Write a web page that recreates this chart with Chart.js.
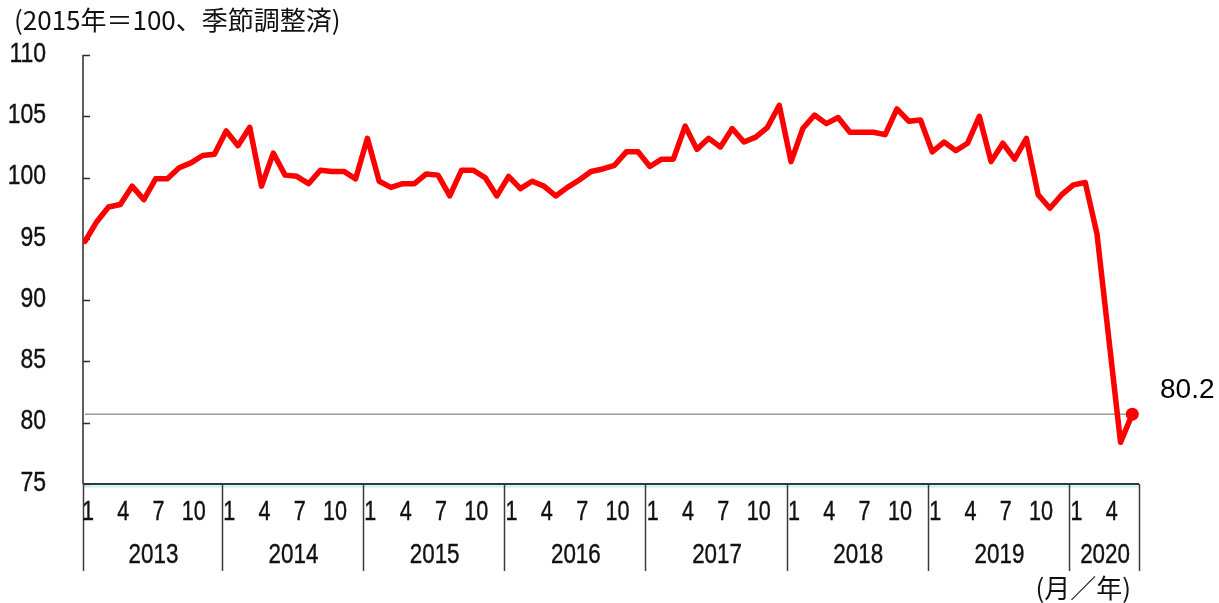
<!DOCTYPE html>
<html><head><meta charset="utf-8">
<script src="https://cdn.jsdelivr.net/npm/chart.js@4.4.1/dist/chart.umd.min.js"></script>
<style>html,body{margin:0;padding:0;background:#fff;}canvas{display:block;}</style>
</head><body>
<canvas id="c" width="1219" height="603"></canvas>
<script>
// ---- data ----
const years = [2013, 2014, 2015, 2016, 2017, 2018, 2019, 2020];
const monthTickLabels = [1, 4, 7, 10];
const yTickValues = [75, 80, 85, 90, 95, 100, 105, 110];
const indexValues = [
  94.8, 96.4, 97.6, 97.8, 99.3, 98.2, 99.9, 99.9, 100.8, 101.2, 101.8, 101.9,   // 2013
  103.8, 102.6, 104.1, 99.3, 102.0, 100.2, 100.1, 99.5, 100.6, 100.5, 100.5, 99.9, // 2014
  103.2, 99.7, 99.2, 99.5, 99.5, 100.3, 100.2, 98.5, 100.6, 100.6, 100.0, 98.5,  // 2015
  100.1, 99.1, 99.7, 99.3, 98.5, 99.2, 99.8, 100.5, 100.7, 101.0, 102.1, 102.1,  // 2016
  100.9, 101.5, 101.5, 104.2, 102.3, 103.2, 102.5, 104.0, 102.9, 103.3, 104.1, 105.9, // 2017
  101.3, 104.0, 105.1, 104.4, 104.9, 103.7, 103.7, 103.7, 103.5, 105.6, 104.6, 104.7, // 2018
  102.1, 102.9, 102.2, 102.8, 105.0, 101.3, 102.8, 101.5, 103.2, 98.6, 97.5, 98.6,   // 2019
  99.4, 99.6, 95.4, 86.9, 78.4, 80.7                                                // 2020
];
const referenceValue = 80.7;
const lastValueLabel = '80.2';
const titleText = '(2015年＝100、季節調整済)';
const unitText = '(月／年)';

// ---- build datasets ----
const linePoints = indexValues.map((v, i) => ({ x: i, y: v }));
const refPoints = [{ x: 0, y: referenceValue }, { x: indexValues.length - 1, y: referenceValue }];
const lastIdx = indexValues.length - 1;

function narrowText(ctx, text, x, y, align, sx) {
  ctx.save();
  ctx.translate(x, y);
  ctx.scale(sx, 1);
  ctx.textAlign = align;
  ctx.textBaseline = 'middle';
  ctx.fillText(text, 0, 0);
  ctx.lineWidth = 0.4;
  ctx.strokeStyle = ctx.fillStyle;
  ctx.strokeText(text, 0, 0);
  ctx.restore();
}

const axesPlugin = {
  id: 'customAxes',
  beforeDatasetsDraw(chart) {
    const { ctx, chartArea: a, scales: { x, y } } = chart;
    ctx.save();
    ctx.strokeStyle = '#2a2a2a';
    ctx.lineWidth = 1.5;
    // y axis line
    ctx.beginPath(); ctx.moveTo(a.left, a.top); ctx.lineTo(a.left, a.bottom); ctx.stroke();
    // y ticks (inward)
    yTickValues.forEach(v => {
      const py = Math.round(y.getPixelForValue(v)) + 0.5;
      ctx.beginPath(); ctx.moveTo(a.left, py); ctx.lineTo(a.left + 7, py); ctx.stroke();
    });
    // light cyan under x axis
    ctx.strokeStyle = '#c8eef4';
    ctx.lineWidth = 2;
    ctx.beginPath(); ctx.moveTo(a.left, a.bottom + 2.5); ctx.lineTo(a.right, a.bottom + 2.5); ctx.stroke();
    // x axis line
    ctx.strokeStyle = '#2a3a3e';
    ctx.lineWidth = 2;
    ctx.beginPath(); ctx.moveTo(a.left, a.bottom); ctx.lineTo(a.right, a.bottom); ctx.stroke();
    // year separators
    const bounds = [a.left];
    for (let j = 1; j < years.length; j++) bounds.push(x.getPixelForValue(12 * j - 0.37));
    bounds.push(a.right);
    ctx.strokeStyle = '#3a3a3a';
    ctx.lineWidth = 1.5;
    bounds.forEach(bx => {
      const px = Math.round(bx) + 0.5;
      ctx.beginPath(); ctx.moveTo(px, a.bottom); ctx.lineTo(px, a.bottom + 87); ctx.stroke();
    });
    ctx.restore();
  },
  afterDraw(chart) {
    const { ctx, chartArea: a, scales: { x, y } } = chart;
    ctx.save();
    ctx.fillStyle = '#111';
    // y tick labels
    ctx.font = '28px "Liberation Sans", Arial, sans-serif';
    yTickValues.forEach(v => {
      narrowText(ctx, String(v), 46, y.getPixelForValue(v) - 1, 'right', 0.82);
    });
    // month labels
    ctx.font = '27px "Liberation Sans", Arial, sans-serif';
    years.forEach((yr, j) => {
      monthTickLabels.forEach(m => {
        const idx = 12 * j + m - 1;
        if (idx < indexValues.length) {
          narrowText(ctx, String(m), x.getPixelForValue(idx + 0.25), a.bottom + 29, 'center', 0.8);
        }
      });
    });
    // year labels
    const bounds = [a.left];
    for (let j = 1; j < years.length; j++) bounds.push(x.getPixelForValue(12 * j - 0.37));
    bounds.push(a.right);
    ctx.font = '28px "Liberation Sans", Arial, sans-serif';
    years.forEach((yr, j) => {
      narrowText(ctx, String(yr), (bounds[j] + bounds[j + 1]) / 2 + 1, a.bottom + 71, 'center', 0.8);
    });
    // unit label
    ctx.font = '26px "Noto Sans CJK JP", sans-serif';
    ctx.textAlign = 'right';
    ctx.textBaseline = 'middle';
    ctx.fillText(unitText, 1131, 588);
    // title
    ctx.textAlign = 'left';
    ctx.fillText(titleText, 14, 20);
    // last value label
    ctx.font = '28px "Liberation Sans", Arial, sans-serif';
    ctx.fillStyle = '#000';
    ctx.textAlign = 'left';
    ctx.fillText(lastValueLabel, 1160, 390);
    ctx.restore();
  }
};

new Chart(document.getElementById('c'), {
  type: 'line',
  data: {
    datasets: [
      {
        label: '指数',
        data: linePoints,
        borderColor: '#ff0000',
        backgroundColor: '#ff0000',
        borderWidth: 5.5,
        borderJoinStyle: 'round',
        borderCapStyle: 'round',
        tension: 0,
        pointRadius: linePoints.map((p, i) => i === lastIdx ? 6.5 : 0),
        pointHoverRadius: 0,
        pointBorderWidth: 0,
        order: 1
      },
      {
        label: 'ref',
        data: refPoints,
        borderColor: '#9a9a9a',
        borderWidth: 1.5,
        pointRadius: 0,
        tension: 0,
        order: 2
      }
    ]
  },
  options: {
    responsive: false,
    animation: false,
    devicePixelRatio: 1,
    layout: { padding: { left: 83, right: 80, top: 55, bottom: 119 } },
    plugins: { legend: { display: false }, tooltip: { enabled: false } },
    scales: {
      x: { type: 'linear', min: -0.17, max: 89.57, display: false },
      y: { type: 'linear', min: 75, max: 110, display: false }
    }
  },
  plugins: [axesPlugin]
});
</script>
</body></html>
